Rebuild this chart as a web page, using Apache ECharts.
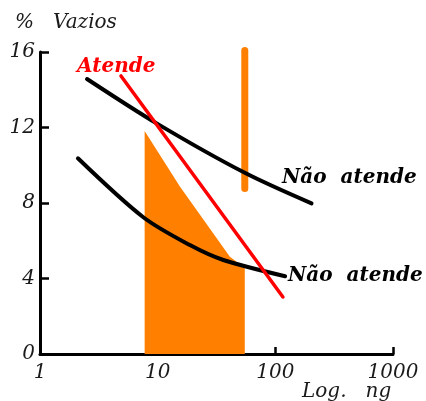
<!DOCTYPE html>
<html>
<head>
<meta charset="utf-8">
<script src="https://cdn.jsdelivr.net/npm/echarts@6/dist/echarts.min.js"></script>
<style>
  html, body { margin: 0; padding: 0; background: #fff; }
  #chart { width: 426px; height: 401px; }
</style>
</head>
<body>
<div id="chart"></div>
<script>
// Axis ranges / ticks
const xTicks = [1, 10, 100, 1000];
const yTicks = [0, 4, 8, 12, 16];

// Limit curves: [ng, % vazios]
const upperLimit = [[2.51, 14.57], [9.8, 12.22], [55, 9.6], [203, 7.98]];
const lowerLimit = [[2.1, 10.37], [7.5, 7.26], [18.8, 5.77], [36.1, 4.98], [121, 4.12]];
const atendeLine = [[4.88, 14.73], [116, 3.02]];

// Shaded zone (top edge), filled down to 0
const zoneEdge = [[7.75, 11.81], [15.5, 8.86], [41.1, 5.15], [55, 4.56]];
// Vertical orange marker
const markerBar = [[55, 8.77], [55, 16.08]];

const labels = {
  yTitle: '%   Vazios',
  xTitle: 'Log.   ng',
  ok: 'Atende',
  notOk: 'Não  atende'
};

const ORANGE = '#ff8000';
const RED = '#ff0000';
const BLACK = '#000000';
const tickFont = { fontFamily: 'DejaVu Serif', fontStyle: 'italic', fontSize: 20, color: '#1a1a1a' };

const chart = echarts.init(document.getElementById('chart'), null, { renderer: 'canvas' });

chart.setOption({
  animation: false,
  backgroundColor: '#ffffff',
  grid: { left: 40, right: 33, top: 52, bottom: 47 },
  xAxis: {
    type: 'log',
    logBase: 10,
    min: xTicks[0],
    max: xTicks[xTicks.length - 1],
    axisLine: { show: true, lineStyle: { color: BLACK, width: 3 } },
    axisTick: { show: true, inside: true, length: 7, lineStyle: { color: BLACK, width: 2.5 } },
    splitLine: { show: false },
    minorTick: { show: false },
    axisLabel: Object.assign({ margin: 9, formatter: v => String(Math.round(v)) }, tickFont)
  },
  yAxis: {
    type: 'value',
    min: yTicks[0],
    max: yTicks[yTicks.length - 1],
    interval: 4,
    axisLine: { show: true, lineStyle: { color: BLACK, width: 3 } },
    axisTick: { show: true, inside: true, length: 9, lineStyle: { color: BLACK, width: 2.5 } },
    splitLine: { show: false },
    axisLabel: Object.assign({ margin: 5 }, tickFont)
  },
  series: [
    {
      type: 'line',
      data: zoneEdge,
      symbol: 'none',
      lineStyle: { width: 0 },
      areaStyle: { color: ORANGE, opacity: 1 },
      z: 1
    },
    {
      type: 'line',
      data: markerBar,
      symbol: 'none',
      clip: false,
      lineStyle: { color: ORANGE, width: 7, cap: 'round' },
      z: 2
    },
    {
      type: 'line',
      data: upperLimit,
      symbol: 'none',
      smooth: 0.3,
      lineStyle: { color: BLACK, width: 4, cap: 'round' },
      z: 3
    },
    {
      type: 'line',
      data: lowerLimit,
      symbol: 'none',
      smooth: 0.3,
      lineStyle: { color: BLACK, width: 4, cap: 'round' },
      z: 3
    },
    {
      type: 'line',
      data: atendeLine,
      symbol: 'none',
      lineStyle: { color: RED, width: 3.5, cap: 'round' },
      z: 4
    }
  ],
  graphic: [
    {
      type: 'text', left: 15, top: 13,
      style: { text: labels.yTitle, font: 'italic 20px "DejaVu Serif"', fill: '#1a1a1a' }
    },
    {
      type: 'text', left: 302, top: 382,
      style: { text: labels.xTitle, font: 'italic 20px "DejaVu Serif"', fill: '#1a1a1a' }
    },
    {
      type: 'text', left: 77, top: 57,
      style: { text: labels.ok, font: 'italic bold 20px "DejaVu Serif"', fill: RED }
    },
    {
      type: 'text', left: 282, top: 168,
      style: { text: labels.notOk, font: 'italic bold 20px "DejaVu Serif"', fill: BLACK }
    },
    {
      type: 'text', left: 288, top: 266,
      style: { text: labels.notOk, font: 'italic bold 20px "DejaVu Serif"', fill: BLACK }
    }
  ]
});
</script>
</body>
</html>
